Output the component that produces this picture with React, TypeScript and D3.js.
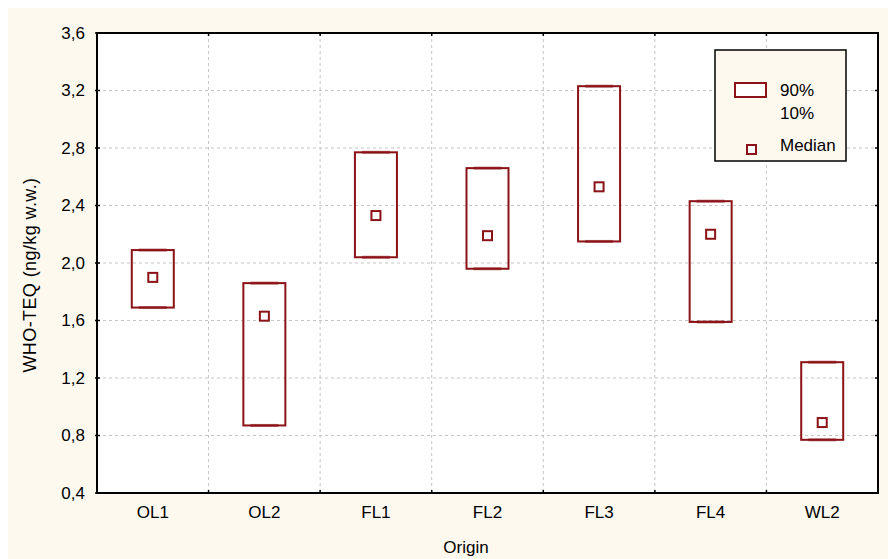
import React, { useEffect, useRef } from 'react';
import * as d3 from 'd3';

// categories and values
const origins = ['OL1', 'OL2', 'FL1', 'FL2', 'FL3', 'FL4', 'WL2'];
const p90 = [2.09, 1.86, 2.77, 2.66, 3.23, 2.43, 1.31];
const p10 = [1.69, 0.87, 2.04, 1.96, 2.15, 1.59, 0.77];
const medians = [1.9, 1.63, 2.33, 2.19, 2.53, 2.2, 0.89];
const yTicks = [0.4, 0.8, 1.2, 1.6, 2.0, 2.4, 2.8, 3.2, 3.6];

const W = 880, H = 551;
const RED = '#8b1216';

export default function App() {
  const ref = useRef<SVGSVGElement>(null);

  useEffect(() => {
    const svg = d3.select(ref.current);
    svg.selectAll('*').remove();
    // svg origin is at page (8,8)
    const margin = { left: 89, top: 25, right: 10, bottom: 66 };
    const x0 = margin.left, x1 = W - margin.right, y0 = margin.top, y1 = H - margin.bottom;

    svg.append('rect').attr('width', W).attr('height', H).attr('fill', '#fdf9ef');
    svg.append('rect').attr('x', x0).attr('y', y0).attr('width', x1 - x0).attr('height', y1 - y0).attr('fill', '#fff');

    const x = d3.scaleBand().domain(origins).range([x0, x1]);
    const y = d3.scaleLinear().domain([0.4, 3.6]).range([y1, y0]);
    const fmt = (v: number) => v.toFixed(1).replace('.', ',');

    // grid
    const grid = svg.append('g').attr('stroke', '#c4c4c4').attr('stroke-dasharray', '3,3').attr('stroke-width', 1);
    yTicks.slice(1, -1).forEach(t => {
      grid.append('line').attr('x1', x0).attr('x2', x1).attr('y1', y(t)).attr('y2', y(t));
    });
    origins.slice(1).forEach(o => {
      const xx = x(o)!;
      grid.append('line').attr('x1', xx).attr('x2', xx).attr('y1', y0).attr('y2', y1);
    });

    // frame and ticks
    const ax = svg.append('g').attr('stroke', '#000').attr('stroke-width', 1.5);
    yTicks.forEach(t => {
      ax.append('line').attr('x1', x0 - 2).attr('x2', x0 + 3).attr('y1', y(t)).attr('y2', y(t));
      ax.append('line').attr('x1', x1 - 3).attr('x2', x1 + 1).attr('y1', y(t)).attr('y2', y(t));
    });
    origins.slice(1).forEach(o => {
      const xx = x(o)!;
      ax.append('line').attr('x1', xx).attr('x2', xx).attr('y1', y1 - 3).attr('y2', y1 + 1);
      ax.append('line').attr('x1', xx).attr('x2', xx).attr('y1', y0 - 1).attr('y2', y0 + 3);
    });
    svg.append('rect').attr('x', x0).attr('y', y0).attr('width', x1 - x0).attr('height', y1 - y0)
      .attr('fill', 'none').attr('stroke', '#000').attr('stroke-width', 2);

    const font = '"Liberation Sans", Arial, sans-serif';
    const fs = 17;
    svg.append('g').selectAll('text').data(yTicks).enter().append('text')
      .attr('x', x0 - 12).attr('y', d => y(d)).attr('dy', '0.35em')
      .attr('text-anchor', 'end').attr('font-family', font).attr('font-size', fs)
      .text(d => fmt(d));
    svg.append('g').selectAll('text').data(origins).enter().append('text')
      .attr('x', d => x(d)! + x.bandwidth() / 2).attr('y', y1 + 25)
      .attr('text-anchor', 'middle').attr('font-family', font).attr('font-size', fs)
      .text(d => d);
    svg.append('text').attr('x', 458).attr('y', 545).attr('text-anchor', 'middle')
      .attr('font-family', font).attr('font-size', fs).text('Origin');
    svg.append('text').attr('transform', 'translate(28,267) rotate(-90)')
      .attr('text-anchor', 'middle').attr('font-family', font).attr('font-size', 18)
      .attr('letter-spacing', 0.4)
      .text('WHO-TEQ (ng/kg w.w.)');

    // boxes
    const bw = 42;
    const g = svg.append('g');
    origins.forEach((o, i) => {
      const cx = x(o)! + x.bandwidth() / 2;
      g.append('line').attr('x1', cx - 14).attr('x2', cx + 14).attr('y1', y(p90[i])).attr('y2', y(p90[i]))
        .attr('stroke', RED).attr('stroke-width', 3).attr('opacity', 0.6);
      g.append('line').attr('x1', cx - 14).attr('x2', cx + 14).attr('y1', y(p10[i])).attr('y2', y(p10[i]))
        .attr('stroke', RED).attr('stroke-width', 3).attr('opacity', 0.6);
      g.append('rect').attr('x', cx - bw / 2).attr('y', y(p90[i])).attr('width', bw)
        .attr('height', y(p10[i]) - y(p90[i])).attr('fill', 'none').attr('stroke', RED).attr('stroke-width', 2);
      g.append('rect').attr('x', cx - 4.5).attr('y', y(medians[i]) - 4.5).attr('width', 9).attr('height', 9)
        .attr('fill', '#fff').attr('stroke', RED).attr('stroke-width', 2);
    });

    // legend
    const lg = svg.append('g').attr('transform', 'translate(707,42)');
    lg.append('rect').attr('width', 131).attr('height', 111).attr('fill', '#fdf9ef')
      .attr('stroke', '#000').attr('stroke-width', 1.5);
    lg.append('rect').attr('x', 20).attr('y', 33).attr('width', 31).attr('height', 14)
      .attr('fill', '#fff').attr('stroke', RED).attr('stroke-width', 2);
    lg.append('rect').attr('x', 32).attr('y', 99 - 4).attr('width', 9).attr('height', 9)
      .attr('fill', '#fff').attr('stroke', RED).attr('stroke-width', 2);
    const lt = [['90%', 40], ['10%', 63], ['Median', 95]] as [string, number][];
    lt.forEach(([t, yy]) => {
      lg.append('text').attr('x', 65).attr('y', yy).attr('dy', '0.35em').attr('font-family', font)
        .attr('font-size', fs).text(t);
    });
  }, []);

  return (
    <svg ref={ref} width={W} height={H}
      style={{ position: 'absolute', left: 8, top: 8, display: 'block' }} />
  );
}
